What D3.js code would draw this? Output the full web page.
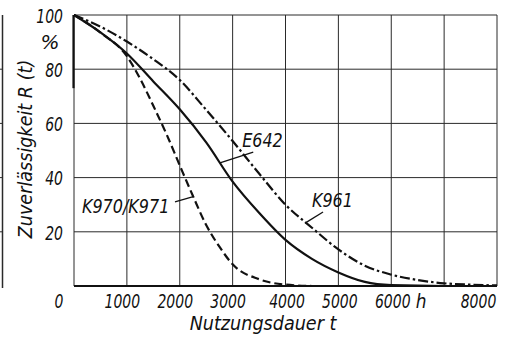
<!DOCTYPE html>
<html>
<head>
<meta charset="utf-8">
<script src="https://cdnjs.cloudflare.com/ajax/libs/d3/7.8.5/d3.min.js"></script>
<style>
body { margin: 0; background: #fff; }
svg { display: block; }
text {
    font-family: "DejaVu Sans", sans-serif;
    font-style: italic;
    font-size: 20px;
    fill: #111;
}
.grid line { stroke: #2a2a2a; stroke-width: 1; }
.curve { fill: none; stroke: #111; stroke-width: 2.2; }
.lead { fill: none; stroke: #111; stroke-width: 1.3; }
</style>
</head>
<body>
<svg></svg>
<script>
// Zuverlaessigkeit R(t) in %, ueber Nutzungsdauer t in h
var xTicks = [1000, 2000, 3000, 4000, 5000, 6000, 8000],
    yTicks = [20, 40, 60, 80, 100];

var tE642 = [0, 500, 1000, 1500, 2000, 2500, 3000, 3500, 4000, 4500, 5000, 5500, 6000, 7000, 8000],
    rE642 = [100, 93.6, 85.8, 75.5, 65.2, 53, 38.5, 27, 17, 10, 5, 1.5, 0.3, 0, 0];

var tK970 = [0, 500, 1000, 1250, 1500, 1750, 2000, 2250, 2500, 2750, 3000, 3500, 4000, 4500],
    rK970 = [100, 93.5, 84.8, 76.5, 66.5, 56, 44.5, 33.2, 22.5, 14.5, 8, 2.5, 0.5, 0];

var tK961 = [0, 500, 1000, 1500, 2000, 2500, 3000, 3500, 4000, 4500, 5000, 5500, 6000, 6500, 7000, 7500, 8000],
    rK961 = [100, 95.7, 90.2, 83.7, 76, 65, 53.5, 41.5, 30, 21.5, 13.5, 7.5, 4.2, 2.2, 1, 0.5, 0.2];

var width = 509,
    height = 337,
    svg = d3.select("svg")
    .attr("width", width)
    .attr("height", height);

var x = d3.scaleLinear().domain([0, 8000]).range([74, 497]),
    y = d3.scaleLinear().domain([0, 100]).range([286, 15]);

// narrow technical lettering: squeeze the glyphs horizontally
function squeeze(sel, px, py, sx, rot) {
    sel.attr("x", 0).attr("y", 0)
        .attr("transform", "translate(" + px + "," + py + ")" + (rot ? " rotate(" + rot + ")" : "") + " scale(" + sx + ",1)");
}

// rest of the neighbouring chart at the left edge
var side = svg.append("g").attr("class", "grid");
side.append("line")
    .attr("x1", 2.5).attr("x2", 2.5)
    .attr("y1", y(100)).attr("y2", y(0) + 2)
    .style("stroke-width", 1.5);
side.selectAll(".stub")
    .data(yTicks.slice(0, 4))
    .enter().append("line")
    .attr("class", "stub")
    .attr("x1", 0).attr("x2", 2.5)
    .attr("y1", function (d) { return y(d); })
    .attr("y2", function (d) { return y(d); });

// grid
var grid = svg.append("g").attr("class", "grid");
grid.selectAll(".gx")
    .data(d3.range(0, 8001, 1000))
    .enter().append("line")
    .attr("class", "gx")
    .attr("x1", function (d) { return x(d); })
    .attr("x2", function (d) { return x(d); })
    .attr("y1", y(100))
    .attr("y2", y(0));
grid.selectAll(".gy")
    .data([0].concat(yTicks))
    .enter().append("line")
    .attr("class", "gy")
    .attr("x1", x(0))
    .attr("x2", x(8000))
    .attr("y1", function (d) { return y(d); })
    .attr("y2", function (d) { return y(d); });

// thicker axis lines
svg.append("line")
    .attr("x1", x(0)).attr("x2", x(8000))
    .attr("y1", y(0)).attr("y2", y(0))
    .attr("stroke", "#111").attr("stroke-width", 2.2);
svg.append("line")
    .attr("x1", x(0) - 0.5).attr("x2", x(0) - 0.5)
    .attr("y1", y(100)).attr("y2", y(73))
    .attr("stroke", "#111").attr("stroke-width", 2.2);

// curves
var line = d3.line()
    .curve(d3.curveMonotoneX)
    .x(function (d) { return x(d[0]); })
    .y(function (d) { return y(d[1]); });

var series = [
    { t: tK961, r: rK961, dash: "10,3,2.5,3" },
    { t: tK970, r: rK970, dash: "8,4" },
    { t: tE642, r: rE642, dash: null }
];

svg.selectAll(".curve")
    .data(series)
    .enter().append("path")
    .attr("class", "curve")
    .attr("stroke-dasharray", function (d) { return d.dash; })
    .attr("d", function (d) {
        return line(d3.zip(d.t, d.r));
    });

// axes
var yAxis = d3.axisLeft(y)
    .tickValues(yTicks)
    .tickSize(0);
var gy = svg.append("g")
    .attr("transform", "translate(" + x(0) + ",0)")
    .call(yAxis);

var xAxis = d3.axisBottom(x)
    .tickValues(xTicks)
    .tickFormat(d3.format("d"))
    .tickSize(0);
var gx = svg.append("g")
    .attr("transform", "translate(0," + y(0) + ")")
    .call(xAxis);

svg.selectAll(".domain").remove();
svg.selectAll(".tick text")
    .attr("fill", "#111")
    .attr("font-size", null)
    .attr("font-family", null)
    .attr("dy", 0);
gx.selectAll(".tick text").each(function (d) {
    var dx = d == 8000 ? -19 : (d < 4000 ? -5 : 1);
    squeeze(d3.select(this), dx, 22, 0.7);
});
gy.selectAll(".tick text").each(function (d) {
    squeeze(d3.select(this).attr("dy", "0.36em"), -11, 0, 0.7);
});

squeeze(svg.append("text").attr("text-anchor", "middle").text("0"), x(0) - 15, y(0) + 22, 0.7);
squeeze(svg.append("text").attr("text-anchor", "middle").text("h"), x(7000) - 23, y(0) + 22, 0.85);
squeeze(svg.append("text").attr("text-anchor", "middle").text("%"), x(0) - 24, y(90) + 7, 1);

squeeze(svg.append("text").attr("text-anchor", "middle").text("Nutzungsdauer t"), 263, 330, 0.88);
squeeze(svg.append("text").attr("text-anchor", "middle").text("Zuverlässigkeit R (t)"), 32, 149, 0.88, -90);

// curve labels
var labels = [
    { name: "E642", t: 3180, r: 53.9, lead: [[2760, 45.4], [3390, 49.4]] },
    { name: "K961", t: 4500, r: 31.7, lead: [[4370, 23.2], [4710, 27.3]] },
    { name: "K970/K971", t: 150, r: 29.7, lead: [[1910, 31], [2255, 33]] }
];

svg.selectAll(".lab")
    .data(labels)
    .enter().append("text")
    .attr("class", "lab")
    .attr("dy", "0.36em")
    .text(function (d) { return d.name; })
    .each(function (d) {
        squeeze(d3.select(this), x(d.t), y(d.r), 0.8);
    });

svg.selectAll(".lead")
    .data(labels)
    .enter().append("path")
    .attr("class", "lead")
    .attr("d", function (d) {
        return d3.line().x(function (p) { return x(p[0]); }).y(function (p) { return y(p[1]); })(d.lead);
    });
</script>
</body>
</html>
